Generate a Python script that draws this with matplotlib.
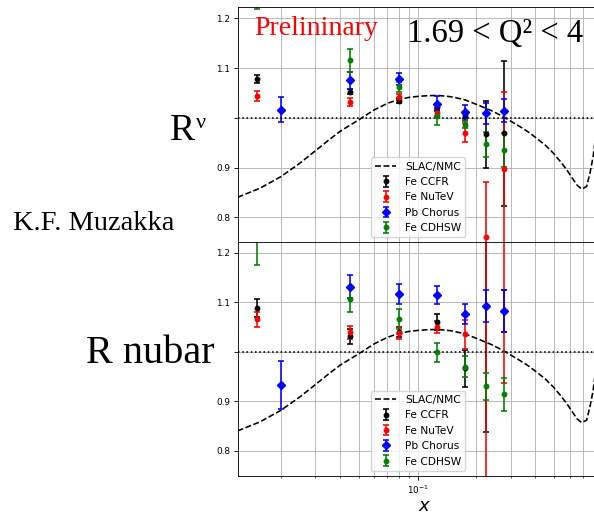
import matplotlib
matplotlib.use("Agg")
import matplotlib.pyplot as plt
import numpy as np

# bin centres in x
x_fe = [0.015, 0.045, 0.08, 0.125, 0.175, 0.225, 0.275]
x_pb = [0.02, 0.045, 0.08, 0.125, 0.175, 0.225, 0.275]

# neutrino ratios
ccfr_nu = [1.0785, 1.052, 1.034, 1.0215, 1.006, 0.967, 0.969]
ccfr_nu_err = [0.008, 0.005, 0.005, 0.006, 0.006, 0.067, 0.146]
nutev_nu = [1.043, 1.0316, 1.0416, 1.0107, 0.9705, 0.7606, 0.897]
nutev_nu_err = [0.010, 0.008, 0.006, 0.008, 0.020, 0.111, 0.154]
chorus_nu = [1.016, 1.075, 1.078, 1.028, 1.0114, 1.0094, 1.014]
chorus_nu_err = [0.025, 0.018, 0.0125, 0.015, 0.015, 0.021, 0.023]
cdhsw_nu = [1.25, 1.1153, 1.061, 1.0027, 0.9866, 0.947, 0.9356]
cdhsw_nu_err = [0.031, 0.023, 0.010, 0.018, 0.008, 0.025, 0.0345]

# antineutrino ratios
ccfr_nub = [1.089, 1.0315, 1.040, 1.060, 0.9663, 1.0925, 1.0825]
ccfr_nub_err = [0.018, 0.015, 0.010, 0.016, 0.037, 0.255, 0.043]
nutev_nub = [1.0657, 1.039, 1.037, 1.050, 1.035, 1.0925, 1.0825]
nutev_nub_err = [0.015, 0.013, 0.012, 0.0125, 0.030, 0.36, 0.1465]
chorus_nub = [0.9327, 1.131, 1.116, 1.114, 1.076, 1.0925, 1.0825]
chorus_nub_err = [0.048, 0.0235, 0.020, 0.018, 0.021, 0.033, 0.043]
cdhsw_nub = [1.235, 1.1054, 1.0657, 0.9986, 0.9696, 0.9307, 0.914]
cdhsw_nub_err = [0.061, 0.025, 0.020, 0.020, 0.021, 0.027, 0.034]

# SLAC/NMC parametrisation
slac_x = [0.012, 0.0156, 0.02, 0.025, 0.0304, 0.035, 0.04, 0.045, 0.05, 0.06,
          0.07, 0.0787, 0.09, 0.1, 0.113, 0.126, 0.14, 0.152, 0.175, 0.2028,
          0.24, 0.2765, 0.333, 0.37, 0.406, 0.45, 0.4945, 0.54, 0.5794,
          0.6527, 0.69, 0.7316, 0.761, 0.79, 0.83, 0.9]
slac_r = [0.8404, 0.8585, 0.882, 0.909, 0.9356, 0.955, 0.9725, 0.985, 0.996,
          1.016, 1.029, 1.036, 1.041, 1.043, 1.0445, 1.045, 1.0435, 1.0416,
          1.036, 1.026, 1.014, 1.0014, 0.9825, 0.971, 0.959, 0.945, 0.929,
          0.911, 0.8954, 0.865, 0.857, 0.862, 0.889, 0.922, 0.99, 1.15]

yticks = [0.8, 0.9, 1.0, 1.1, 1.2]
ylabels = ["0.8", "0.9", "", "1.1", "1.2"]

s = 0.77  # overall size scaling

fig = plt.figure(figsize=(5.94, 5.14), dpi=100)
ax1 = fig.add_axes([0.4, 0.5286, 0.6308, 0.4572])
ax2 = fig.add_axes([0.4, 0.0745, 0.6308, 0.4553])


def panel(ax, ccfr, ccfr_e, nutev, nutev_e, chorus, chorus_e, cdhsw, cdhsw_e):
    ax.plot(slac_x, slac_r, "k--", lw=1.5 * s, label="SLAC/NMC")
    kw = dict(capsize=3 * s, elinewidth=1.5 * s, capthick=1.5 * s, ls="none")
    ax.errorbar(x_fe, ccfr, yerr=ccfr_e, fmt="o", ms=3.2, color="black",
                label="Fe CCFR", **kw)
    ax.errorbar(x_fe, nutev, yerr=nutev_e, fmt="o", ms=3.2, color="red",
                label="Fe NuTeV", **kw)
    ax.errorbar(x_pb, chorus, yerr=chorus_e, fmt="D", ms=3.8, color="blue",
                label="Pb Chorus", **kw)
    ax.errorbar(x_fe, cdhsw, yerr=cdhsw_e, fmt="o", ms=3.2, color="green",
                label="Fe CDHSW", **kw)
    ax.axhline(1.0, color="black", ls=":", lw=1.5 * s)
    ax.set_xscale("log")
    ax.set_xlim(0.012, 0.99)
    ax.set_ylim(0.75, 1.222)
    ax.set_yticks(yticks)
    ax.set_yticklabels(ylabels)
    ax.grid(True, which="both", axis="x", color="#b0b0b0", lw=0.8 * s)
    ax.grid(True, which="major", axis="y", color="#b0b0b0", lw=0.8 * s)
    ax.tick_params(labelsize=6.4, length=3.5 * s, width=0.8 * s, pad=3.5 * s)
    ax.tick_params(which="minor", length=2 * s, width=0.6 * s)
    for sp in ax.spines.values():
        sp.set_linewidth(0.8 * s)
    ax.legend(loc="lower left", bbox_to_anchor=(0.355, 0.021),
              borderaxespad=0, fontsize=7.7)


panel(ax1, ccfr_nu, ccfr_nu_err, nutev_nu, nutev_nu_err,
      chorus_nu, chorus_nu_err, cdhsw_nu, cdhsw_nu_err)
panel(ax2, ccfr_nub, ccfr_nub_err, nutev_nub, nutev_nub_err,
      chorus_nub, chorus_nub_err, cdhsw_nub, cdhsw_nub_err)

ax1.tick_params(axis="x", which="both", labelbottom=False)
ax2.set_xlabel("$x$", fontsize=13, labelpad=1)


def ftext(px, py, txt, **kw):
    fig.text(px / 594, 1 - py / 514, txt, va="baseline",
             family="Liberation Serif", **kw)


ftext(254, 35, "Prelininary", color="red", fontsize=20)
ftext(407, 41.7, "1.69 < Q² < 4", color="black", fontsize=23.5)
ftext(170, 140, "R", fontsize=27)
ftext(196, 128, "ν", fontsize=16)
ftext(13, 230, "K.F. Muzakka", fontsize=20.5)
ftext(86, 363, "R nubar", fontsize=29)

fig.savefig("out.png", dpi=100)
